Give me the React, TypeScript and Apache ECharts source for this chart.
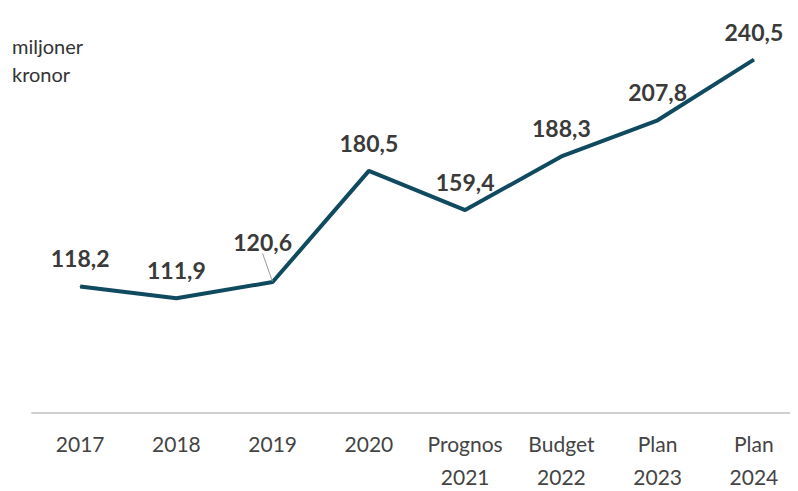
import React, { useEffect, useRef } from "react";
import * as echarts from "echarts";

const categories = ["2017", "2018", "2019", "2020", "Prognos\n2021", "Budget\n2022", "Plan\n2023", "Plan\n2024"];
const values = [118.2, 111.9, 120.6, 180.5, 159.4, 188.3, 207.8, 240.5];
const labelDx = [8, 7, 0, 7, 1, 1, 5, -4];
const labelDy = [0, 0, 0, 0, 2, 0, 0, 3];
const unitLabel = "miljoner\nkronor";

export default function App() {
  const ref = useRef<HTMLDivElement>(null);
  useEffect(() => {
    if (!ref.current) return;
    const chart = echarts.init(ref.current, null, { renderer: "svg" });
    chart.setOption({
      animation: false,
      backgroundColor: "#ffffff",
      textStyle: { fontFamily: "Lato" },
      graphic: [
        {
          type: "text",
          left: 4,
          top: 24,
          style: {
            text: unitLabel,
            fontFamily: "Lato",
            fontSize: 20,
            lineHeight: 28,
            fill: "#333333",
          },
        },
      ],
      grid: { left: 24, right: -4, top: 34, bottom: 78, containLabel: false, outerBoundsMode: "none" },
      xAxis: {
        type: "category",
        data: categories,
        boundaryGap: true,
        axisLine: { lineStyle: { color: "#cfcfcf", width: 2 } },
        axisTick: { show: false },
        axisLabel: {
          fontFamily: "Lato",
          fontSize: 21,
          lineHeight: 33,
          color: "#444444",
          margin: 14,
          interval: 0,
        },
      },
      yAxis: {
        type: "value",
        min: 50,
        max: 250,
        show: false,
        splitLine: { show: false },
      },
      series: [
        {
          type: "line",
          data: values.map((v, i) => ({
            value: v,
            label: { offset: [labelDx[i], labelDy[i]] },
            labelLine:
              i === 2
                ? { show: true, lineStyle: { color: "#9a9a9a", width: 1 } }
                : { show: false },
          })),
          labelLayout: (p: any) => (p.dataIndex === 2 ? { dx: -10, dy: -12 } : {}),
          symbol: "circle",
          symbolSize: 1,
          showSymbol: true,
          itemStyle: { color: "#0f4a5e" },
          lineStyle: { color: "#0f4a5e", width: 4 },
          label: {
            show: true,
            position: "top",
            distance: 16,
            fontFamily: "Lato",
            fontWeight: "bold",
            fontSize: 23,
            color: "#3a3a3a",
            formatter: (p: any) => String(p.value).replace(".", ","),
          },
        },
      ],
    });
    return () => chart.dispose();
  }, []);
  return <div ref={ref} style={{ width: 790, height: 483 }} />;
}
